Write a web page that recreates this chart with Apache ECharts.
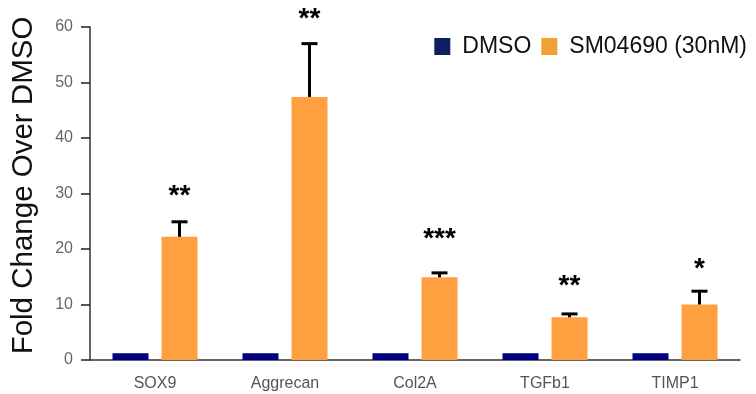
<!DOCTYPE html>
<html><head><meta charset="utf-8">
<script src="https://cdn.jsdelivr.net/npm/echarts@6/dist/echarts.min.js"></script>
<style>html,body{margin:0;padding:0;background:#fff}#c{width:756px;height:394px}</style>
</head><body><div id="c"></div>
<script>
var categories = ['SOX9', 'Aggrecan', 'Col2A', 'TGFb1', 'TIMP1'];
var dmso = [1.2, 1.2, 1.2, 1.2, 1.2];
var sm04690 = [22.2, 47.4, 14.9, 7.7, 10.0];
var smError = [2.7, 9.6, 0.8, 0.6, 2.4];
var stars = ['**', '**', '***', '**', '*'];
var starLevel = [30.6, 62.4, 22.9, 14.4, 17.5];
var yTicks = [0, 10, 20, 30, 40, 50, 60];

var chart = echarts.init(document.getElementById('c'));
var BW = 36, GAP = 13;
var errData = categories.map(function (c, i) { return [i, sm04690[i], sm04690[i] + smError[i], starLevel[i]]; });

chart.setOption({
  animation: false,
  textStyle: { fontFamily: 'Liberation Sans, Arial, sans-serif' },
  grid: { left: 90, right: 16, top: 27, bottom: 34, outerBoundsMode: 'none', containLabel: false },
  legend: {
    right: 4, top: 30, itemWidth: 16, itemHeight: 17, itemGap: 10,
    textStyle: { fontSize: 23, color: '#111', padding: [0, 0, 0, 7] },
    icon: 'rect',
    data: [{ name: 'DMSO', itemStyle: { color: '#0c1f5e' } }, { name: 'SM04690 (30nM)', itemStyle: { color: '#f0a133' } }]
  },
  xAxis: {
    type: 'category', data: categories,
    axisLine: { lineStyle: { color: '#333', width: 1.5 } },
    axisTick: { alignWithLabel: true, length: 7, lineStyle: { color: '#222', width: 1.5 } },
    axisLabel: { color: '#555', fontSize: 16, margin: 16 }
  },
  yAxis: {
    type: 'value', min: 0, max: 60, interval: 10,
    name: 'Fold Change Over DMSO', nameLocation: 'middle', nameGap: 51,
    nameTextStyle: { fontSize: 29.5, color: '#111', padding: [0, 0, 0, 16] },
    axisLine: { show: true, lineStyle: { color: '#333', width: 1.5 } },
    axisTick: { show: true, length: 9, lineStyle: { color: '#222', width: 1.5 } },
    axisLabel: { color: '#666', fontSize: 16, margin: 17,
      formatter: function (v) { return yTicks.indexOf(v) >= 0 ? String(v) : ''; } },
    splitLine: { show: false }
  },
  series: [
    { name: 'DMSO', type: 'bar', data: dmso, barWidth: BW, barGap: (GAP / BW * 100) + '%', itemStyle: { color: '#000080' } },
    { name: 'SM04690 (30nM)', type: 'bar', data: sm04690, barWidth: BW, itemStyle: { color: '#ffa040' } },
    {
      type: 'custom', data: errData, z: 10, clip: false,
      encode: { x: 0, y: [1, 2] },
      renderItem: function (params, api) {
        var i = api.value(0);
        var base = api.coord([i, api.value(1)]);
        var top = api.coord([i, api.value(2)]);
        var st = api.coord([i, api.value(3)]);
        var x = base[0] + (BW + GAP) / 2;
        var cap = 8;
        return {
          type: 'group',
          children: [
            { type: 'line', shape: { x1: x, y1: base[1], x2: x, y2: top[1] }, style: { stroke: '#000', lineWidth: 3 } },
            { type: 'line', shape: { x1: x - cap, y1: top[1], x2: x + cap, y2: top[1] }, style: { stroke: '#000', lineWidth: 3 } },
            { type: 'text', x: x, y: st[1] + 6, style: { text: stars[i], fill: '#000', font: 'bold 28px Liberation Sans, Arial, sans-serif', align: 'center', verticalAlign: 'middle' } }
          ]
        };
      }
    }
  ]
});
</script></body></html>
